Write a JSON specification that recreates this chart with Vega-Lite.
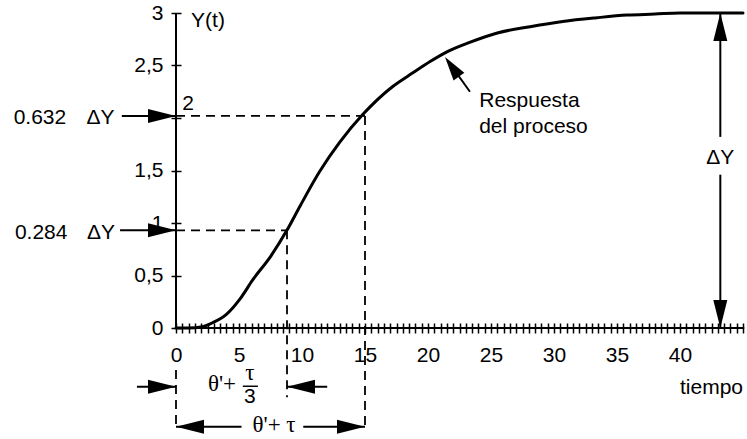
{
  "$schema": "https://vega.github.io/schema/vega-lite/v6.json",
  "autosize": {"type": "none"},
  "padding": {"left": 176, "top": 13, "right": 4, "bottom": 111},
  "width": 567,
  "height": 315,
  "background": "white",
  "config": {
    "view": {"stroke": null},
    "text": {"font": "Liberation Sans", "fontSize": 21, "color": "black", "baseline": "middle", "align": "center"}
  },
  "datasets": {
    "curve": [
      {"x": 0, "y": 0}, {"x": 1, "y": 0}, {"x": 2, "y": 0.01}, {"x": 2.9, "y": 0.05},
      {"x": 4.0, "y": 0.13}, {"x": 5.1, "y": 0.28}, {"x": 6.1, "y": 0.46}, {"x": 7.5, "y": 0.68},
      {"x": 8.8, "y": 0.93}, {"x": 9.84, "y": 1.16}, {"x": 11.4, "y": 1.49}, {"x": 13.0, "y": 1.77},
      {"x": 14.8, "y": 2.03}, {"x": 17.2, "y": 2.3}, {"x": 18.8, "y": 2.43}, {"x": 20.2, "y": 2.54},
      {"x": 21.5, "y": 2.63}, {"x": 23.3, "y": 2.72}, {"x": 25.5, "y": 2.81}, {"x": 28.1, "y": 2.87},
      {"x": 30.7, "y": 2.92}, {"x": 33.4, "y": 2.955}, {"x": 35.8, "y": 2.98}, {"x": 38, "y": 2.99},
      {"x": 40, "y": 3.0}, {"x": 45, "y": 3.0}
    ],
    "axislines": [
      {"x": 0, "y": 0, "x2": 45.1, "y2": 0},
      {"x": 0, "y": 0, "x2": 0, "y2": 3.0}
    ],
    "dashed": [
      {"x": 0, "y": 2.02, "x2": 15.0, "y2": 2.02},
      {"x": 15.0, "y": 2.02, "x2": 15.0, "y2": -0.95},
      {"x": 0, "y": 0.93, "x2": 8.81, "y2": 0.93},
      {"x": 8.81, "y": 0.93, "x2": 8.81, "y2": -0.66},
      {"x": 0, "y": -0.4, "x2": 0, "y2": -0.95}
    ],
    "solid": [
      {"x": -4.3, "y": 2.02, "x2": 0, "y2": 2.02},
      {"x": -4.44, "y": 0.93, "x2": 0, "y2": 0.93},
      {"x": 43.2, "y": 3.0, "x2": 43.2, "y2": 1.82},
      {"x": 43.2, "y": 1.46, "x2": 43.2, "y2": 0},
      {"x": -3.1, "y": -0.56, "x2": 0, "y2": -0.56},
      {"x": 8.81, "y": -0.56, "x2": 12.0, "y2": -0.56},
      {"x": 0, "y": -0.94, "x2": 5.2, "y2": -0.94},
      {"x": 10.1, "y": -0.94, "x2": 15.0, "y2": -0.94},
      {"x": 23.33, "y": 2.25, "x2": 21.6, "y2": 2.54}
    ],
    "bar": [
      {"x": 5.3, "y": -0.555, "x2": 6.5, "y2": -0.555}
    ],
    "heads": [
      {"x": 0, "y": 2.02, "dir": "right"},
      {"x": 0, "y": 0.93, "dir": "right"},
      {"x": 43.2, "y": 3.0, "dir": "up"},
      {"x": 43.2, "y": 0, "dir": "down"},
      {"x": 0, "y": -0.56, "dir": "right"},
      {"x": 8.81, "y": -0.56, "dir": "left"},
      {"x": 0, "y": -0.94, "dir": "left"},
      {"x": 15.0, "y": -0.94, "dir": "right"}
    ],
    "slant": [
      {"x": 21.35, "y": 2.58}
    ],
    "sans": [
      {"x": -10.8, "y": 2.0, "label": "0.632"},
      {"x": -6.0, "y": 2.0, "label": "ΔY"},
      {"x": -10.7, "y": 0.905, "label": "0.284"},
      {"x": -5.95, "y": 0.905, "label": "ΔY"},
      {"x": 2.54, "y": 2.92, "label": "Y(t)"},
      {"x": 0.95, "y": 2.13, "label": "2"},
      {"x": 43.2, "y": 1.62, "label": "ΔY"},
      {"x": 42.5, "y": -0.57, "label": "tiempo"},
      {"x": 28.05, "y": 2.16, "label": "Respuesta"},
      {"x": 28.37, "y": 1.91, "label": "del proceso"},
      {"x": 5.87, "y": -0.66, "label": "3"}
    ],
    "serif": [
      {"x": 3.65, "y": -0.53, "label": "θ'+"},
      {"x": 5.87, "y": -0.43, "label": "τ"},
      {"x": 7.78, "y": -0.92, "label": "θ'+ τ"}
    ]
  },
  "encoding": {
    "x": {
      "field": "x", "type": "quantitative",
      "scale": {"domain": [0, 45], "nice": false, "zero": false},
      "axis": {
        "title": null, "grid": false, "domain": false, "offset": -5,
        "values": [0, 0.5, 1, 1.5, 2, 2.5, 3, 3.5, 4, 4.5, 5, 5.5, 6, 6.5, 7, 7.5, 8, 8.5, 9, 9.5, 10, 10.5, 11, 11.5, 12, 12.5, 13, 13.5, 14, 14.5, 15, 15.5, 16, 16.5, 17, 17.5, 18, 18.5, 19, 19.5, 20, 20.5, 21, 21.5, 22, 22.5, 23, 23.5, 24, 24.5, 25, 25.5, 26, 26.5, 27, 27.5, 28, 28.5, 29, 29.5, 30, 30.5, 31, 31.5, 32, 32.5, 33, 33.5, 34, 34.5, 35, 35.5, 36, 36.5, 37, 37.5, 38, 38.5, 39, 39.5, 40, 40.5, 41, 41.5, 42, 42.5, 43, 43.5, 44, 44.5, 45],
        "labelExpr": "(datum.value % 5 === 0 && datum.value < 45) ? format(datum.value, 'd') : ''",
        "labelOverlap": false, "labelFlush": false,
        "tickColor": "black", "tickWidth": 1.5, "tickSize": 10,
        "labelFont": "Liberation Sans", "labelFontSize": 21, "labelColor": "black",
        "labelPadding": 11
      }
    },
    "y": {
      "field": "y", "type": "quantitative",
      "scale": {"domain": [0, 3], "nice": false, "zero": false},
      "axis": {
        "title": null, "grid": false, "domain": false, "offset": -5,
        "values": [0, 0.5, 1, 1.5, 2, 2.5, 3],
        "labelExpr": "datum.value === 2 ? '' : replace(toString(datum.value), '.', ',')",
        "labelOverlap": false, "labelFlush": false,
        "tickColor": "black", "tickWidth": 1.5, "tickSize": 10,
        "labelFont": "Liberation Sans", "labelFontSize": 21, "labelColor": "black",
        "labelPadding": 8
      }
    }
  },
  "layer": [
    {
      "data": {"name": "axislines"},
      "mark": {"type": "rule", "color": "black", "strokeWidth": 2},
      "encoding": {"x2": {"field": "x2"}, "y2": {"field": "y2"}}
    },
    {
      "data": {"name": "curve"},
      "mark": {"type": "line", "color": "black", "strokeWidth": 3, "strokeJoin": "round", "strokeCap": "round", "interpolate": "monotone"}
    },
    {
      "data": {"name": "dashed"},
      "mark": {"type": "rule", "color": "black", "strokeWidth": 1.8, "strokeDash": [9, 6]},
      "encoding": {"x2": {"field": "x2"}, "y2": {"field": "y2"}}
    },
    {
      "data": {"name": "solid"},
      "mark": {"type": "rule", "color": "black", "strokeWidth": 2},
      "encoding": {"x2": {"field": "x2"}, "y2": {"field": "y2"}}
    },
    {
      "data": {"name": "bar"},
      "mark": {"type": "rule", "color": "black", "strokeWidth": 1.5},
      "encoding": {"x2": {"field": "x2"}, "y2": {"field": "y2"}}
    },
    {
      "data": {"name": "heads"},
      "mark": {"type": "point", "filled": true, "color": "black", "opacity": 1, "size": 784, "strokeWidth": 0},
      "encoding": {
        "shape": {
          "field": "dir", "type": "nominal", "legend": null,
          "scale": {
            "domain": ["right", "left", "up", "down"],
            "range": ["M0,0L-2,-0.5L-2,0.5Z", "M0,0L2,-0.5L2,0.5Z", "M0,0L-0.5,2L0.5,2Z", "M0,0L-0.5,-2L0.5,-2Z"]
          }
        }
      }
    },
    {
      "data": {"name": "slant"},
      "mark": {"type": "point", "filled": true, "color": "black", "opacity": 1, "size": 576, "strokeWidth": 0, "shape": "M0,0L-0.55,2L0.55,2Z", "angle": 324.5}
    },
    {
      "data": {"name": "sans"},
      "mark": {"type": "text", "font": "Liberation Sans", "fontSize": 21},
      "encoding": {"text": {"field": "label"}}
    },
    {
      "data": {"name": "serif"},
      "mark": {"type": "text", "font": "Liberation Serif", "fontSize": 23},
      "encoding": {"text": {"field": "label"}}
    }
  ]
}
